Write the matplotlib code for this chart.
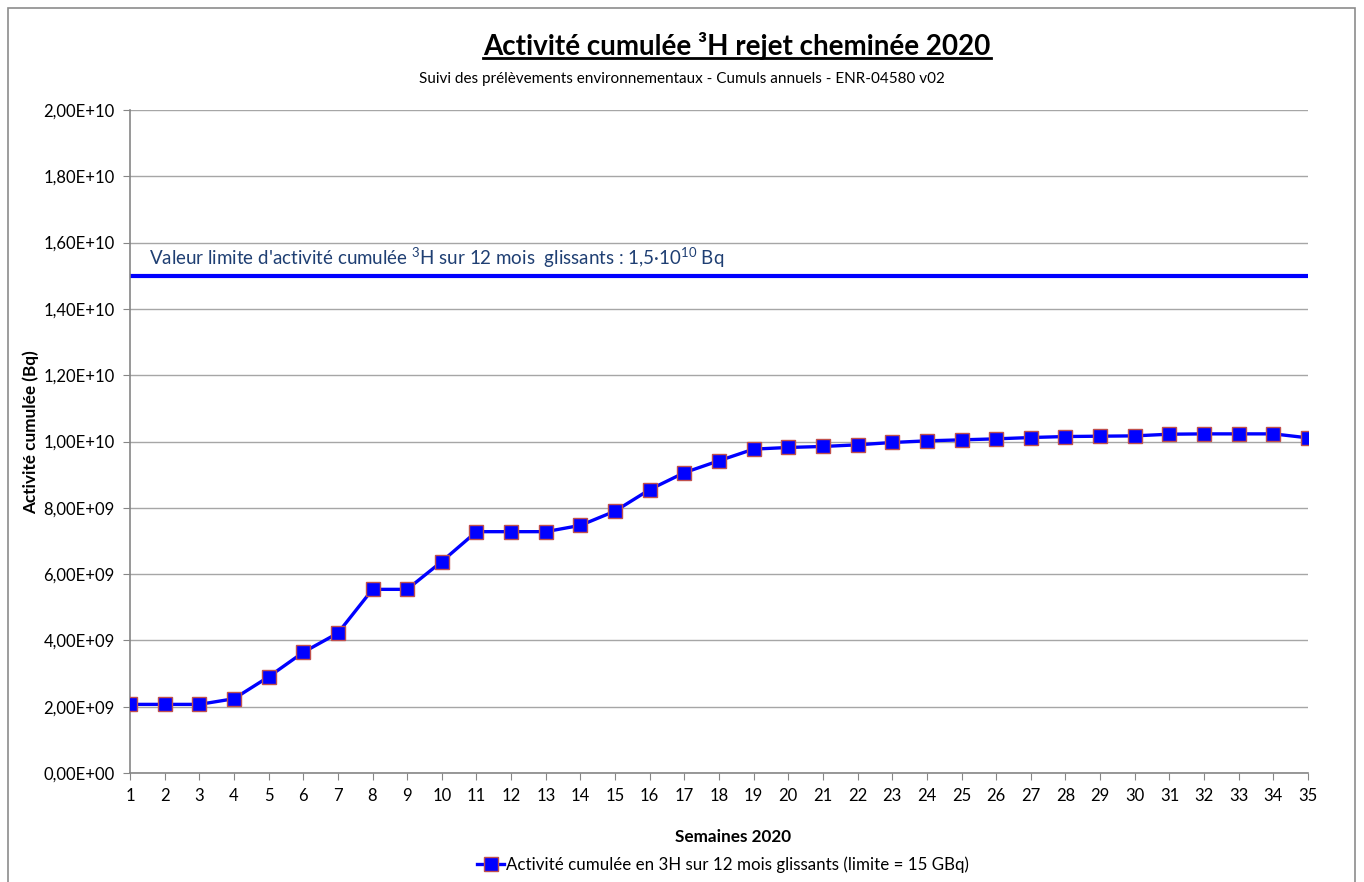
import numpy as np
import matplotlib
matplotlib.use("Agg")
import matplotlib.pyplot as plt
from matplotlib.patches import Rectangle
from matplotlib.lines import Line2D
from matplotlib.ticker import FuncFormatter

plt.rcParams['font.family'] = ['Lato', 'DejaVu Sans']
plt.rcParams['mathtext.fontset'] = 'custom'
plt.rcParams['mathtext.rm'] = 'Lato'
plt.rcParams['mathtext.default'] = 'regular'

# data
weeks = list(range(1, 36))
activity = [2.07e9, 2.07e9, 2.07e9, 2.24e9, 2.90e9, 3.64e9, 4.22e9, 5.54e9, 5.54e9, 6.38e9,
            7.28e9, 7.28e9, 7.28e9, 7.47e9, 7.90e9, 8.55e9, 9.06e9, 9.42e9, 9.77e9, 9.82e9,
            9.85e9, 9.90e9, 9.97e9, 10.02e9, 10.05e9, 10.08e9, 10.12e9, 10.15e9, 10.16e9, 10.17e9,
            10.22e9, 10.23e9, 10.23e9, 10.23e9, 10.11e9]
limit = 1.5e10
yticks = np.arange(0, 2.01e10, 2e9)

fig = plt.figure(figsize=(13.64, 8.82), dpi=100)
W, H = 1364, 882
ax = fig.add_axes([130 / W, 1 - 773 / H, (1308 - 130) / W, (773 - 110) / H])

# outer frame of the chart area
fig.patches.append(Rectangle((8 / W, -0.05), (1355 - 8) / W, 1.05 - 8 / H,
                             transform=fig.transFigure, fill=False,
                             edgecolor='#8c8c8c', lw=1.2))

ax.plot(weeks, activity, color='#0000ff', lw=2.4, marker='s', markersize=10,
        markerfacecolor='#0000ff', markeredgecolor='#c0504d', markeredgewidth=1,
        label='Activité cumulée en 3H sur 12 mois glissants (limite = 15 GBq)', zorder=3)
ax.axhline(limit, color='#0000ff', lw=3, zorder=2)
ax.text(1.55, limit + 0.055e10,
        "Valeur limite d'activité cumulée $^{3}$H sur 12 mois  glissants : 1,5·10$^{10}$ Bq",
        color='#1f3f73', fontsize=13.5, va='center', ha='left')

ax.set_xlim(1, 35)
ax.set_ylim(0, 2e10)
ax.set_xticks(weeks)
ax.set_yticks(yticks)
ax.yaxis.set_major_formatter(FuncFormatter(lambda v, p: ('%.2E' % v).replace('.', ',')))
ax.grid(axis='y', color='#a6a6a6', lw=1)
ax.set_axisbelow(True)
for s in ['top', 'right']:
    ax.spines[s].set_visible(False)
for s in ['left', 'bottom']:
    ax.spines[s].set_color('#868686')
    ax.spines[s].set_linewidth(1.2)
ax.tick_params(axis='both', colors='#868686', labelcolor='black', labelsize=12, length=5)
ax.tick_params(axis='x', pad=6)
ax.tick_params(axis='y', pad=6)

ax.set_xlabel('Semaines 2020', fontsize=12.3, fontweight='bold')
ax.xaxis.set_label_coords((733 - 130) / 1178, -(829 - 773) / 663)
ax.set_ylabel('Activité cumulée (Bq)', fontsize=12.3, fontweight='bold')
ax.yaxis.set_label_coords((39 - 130) / 1178, (773 - 432) / 663)

title = fig.text(737 / W, 1 - 46 / H, 'Activité cumulée ³H rejet cheminée 2020', ha='center', va='center',
                 fontsize=20, fontweight='bold')
fig.text(0.5, 1 - 79 / H, 'Suivi des prélèvements environnementaux - Cumuls annuels - ENR-04580 v02',
         ha='center', va='center', fontsize=11)

fig.legend(loc='center', bbox_to_anchor=(723 / W, 1 - 865 / H), frameon=False, fontsize=12.2,
           handlelength=1.6, handletextpad=0.1)

# underline the title
fig.canvas.draw()
bb = title.get_window_extent().transformed(fig.transFigure.inverted())
fig.lines.append(Line2D([bb.x0, bb.x1], [bb.y0 + 0.002, bb.y0 + 0.002], transform=fig.transFigure,
                        color='black', lw=2))

fig.savefig('out.png', dpi=100)
